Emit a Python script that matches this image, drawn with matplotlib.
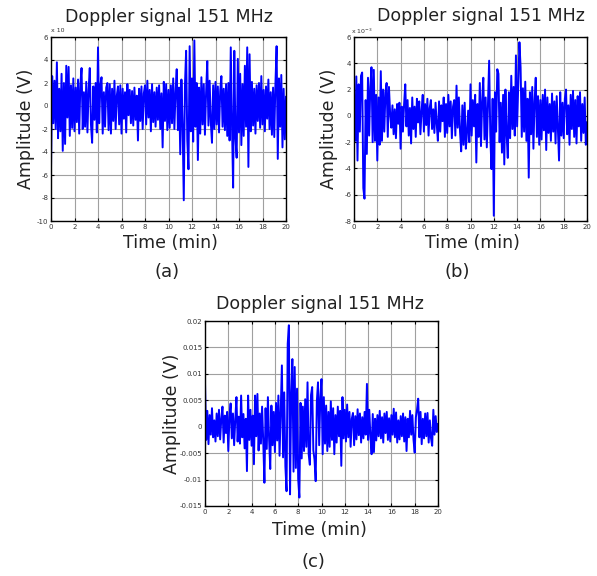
import matplotlib
matplotlib.use('Agg')
import matplotlib.pyplot as plt
import numpy as np

plt.rcParams['font.family'] = ['DejaVu Sans']

# time axis (min), one sample every 0.1 min
t = np.arange(0, 20.05, 0.1)

# signal (a), units x 10^-3 V
sig_a = [-5.5, 2.6, -1.5, 2.2, -2.0, 3.8, -2.8, 1.5, -2.2, 2.8,
         -3.9, 2.0, -3.3, 3.5, -1.0, 3.4, -2.6, 1.8, -1.9, 2.4,
         -2.2, 1.6, -1.4, 2.3, -2.4, 1.9, 3.3, -2.0, 1.2, -1.8,
         2.1, -2.3, 1.4, 3.3, -1.6, -3.2, 1.7, -1.2, 2.0, -2.3,
         5.1, -1.5, 1.8, 2.5, -2.4, 1.2, -1.8, 1.6, 2.0, -2.1,
         1.9, -2.4, 1.5, -1.3, 2.2, -2.0, 0.9, 1.7, -1.6, 1.8,
         -2.4, 1.5, -1.1, 1.2, -2.3, 1.9, -0.8, 1.4, -1.5, 1.3,
         -1.7, 1.6, -1.2, 0.9, -3.0, 1.5, -1.3, 1.7, -2.0, 1.1,
         1.8, -1.6, 2.2, -1.0, 1.4, -2.2, 1.9, -1.4, 1.2, -1.8,
         1.6, -1.2, 1.8, -2.0, 1.1, -3.6, 2.1, -1.3, 1.9, -2.1,
         1.4, -1.9, 1.8, -1.5, 2.4, -2.0, 1.2, 3.2, -2.1, 1.6,
         -4.2, 2.3, -1.6, -8.2, 1.8, 4.8, -3.0, -5.5, 5.2, -2.2,
         2.4, -3.1, 5.7, -1.8, 2.0, -4.7, 1.6, -2.4, 2.5, -1.6,
         1.9, -2.5, 1.2, 3.9, -1.7, 2.2, -1.4, -3.2, 1.8, -2.0,
         2.1, -1.6, 1.7, -2.3, 1.3, 2.6, -1.8, 1.5, -2.1, 1.9,
         -2.6, 2.0, -3.0, 5.1, -1.5, -7.1, 4.8, -2.8, -4.5, 4.1,
         -2.3, 2.8, -3.4, 1.9, -2.6, 3.5, -1.8, 5.1, -5.3, 4.5,
         -2.2, 2.1, -1.7, 1.5, -2.4, 1.8, -1.3, 2.0, -1.9, 2.6,
         -1.6, 1.4, -2.2, 1.7, -1.1, 2.3, -2.0, 1.2, -2.5, 1.6,
         -2.7, 1.9, 5.2, -4.6, 2.4, -1.8, 2.7, -3.6, 1.5, -2.9,
         0.8]

# signal (b), units x 10^-3 V
sig_b = [1.0, -1.9, 3.0, -3.4, 2.4, -1.2, 3.05, 3.3, -5.5, -6.3,
         1.2, -2.9, 2.9, -1.5, 2.2, 3.7, -2.0, 3.5, -1.9, 1.6,
         -3.4, 1.4, -2.2, 3.4, -1.9, 2.0, -1.2, 1.8, 2.5, -1.6,
         2.2, 0.2, -0.9, 0.8, -1.4, 0.5, -1.7, 0.9, -0.6, 1.0,
         -2.5, 0.7, -1.2, 0.9, 2.4, -0.8, 1.2, -1.5, 0.6, -2.1,
         1.4, -1.0, 0.7, -1.6, 1.3, -0.5, 1.1, -1.4, 0.4, 1.6,
         -1.2, 0.9, -0.7, 1.3, -1.5, 0.6, 1.2, -1.0, 0.5, -1.3,
         1.0, -0.6, -1.9, 1.1, -1.2, 0.8, -0.4, 1.4, -1.6, 0.9,
         -1.3, 1.6, -0.8, 1.1, -1.7, 0.7, 1.2, -1.5, 2.3, -0.9,
         1.4, -1.2, -2.7, 0.8, -2.2, 1.0, -2.5, -1.3, 0.4, -2.0,
         2.4, -1.5, 1.2, -0.8, 1.6, -3.55, 0.9, -1.6, 2.5, -2.3,
         1.1, 2.9, -1.8, 1.4, -2.4, 0.8, 4.2, -1.5, -4.05, 1.3,
         -7.6, 1.8, -1.2, 3.55, 3.2, -2.0, 1.0, -2.8, 1.6, -3.7,
         2.0, -1.4, -3.2, 1.8, -1.7, 3.05, -1.0, 2.2, -1.5, 4.6,
         -0.8, 2.4, 5.6, 3.7, -1.6, 2.1, -1.2, 2.6, -1.9, 1.3,
         -4.7, 1.8, -1.4, 2.2, -2.5, 1.1, 2.9, -1.6, 1.5, -2.2,
         1.2, -1.8, 1.6, -1.1, 2.0, -2.6, 1.4, -1.3, 0.9, -1.9,
         1.7, -1.2, 1.1, -2.1, 1.5, -0.9, -3.4, 1.8, -1.5, 1.0,
         -1.7, 1.3, 2.0, -1.4, 0.8, -2.2, 1.6, -1.0, 1.9, -1.6,
         1.2, -2.1, 1.5, -0.8, 1.8, -1.9, 0.9, -1.3, 1.4, -2.2,
         -0.5]

# signal (c), V
sig_c = [0.0084, -0.0025, 0.003, -0.0033, 0.0022, -0.0015, 0.0035, -0.002, 0.0012, -0.0028,
         0.0025, -0.0018, 0.0032, -0.0024, 0.0015, 0.0038, -0.003, 0.0021, -0.0012, 0.0028,
         -0.0046, 0.0018, 0.0044, -0.0022, 0.0025, -0.0035, 0.0014, 0.0056, -0.0028, 0.0019,
         -0.0032, 0.0059, -0.002, 0.0024, -0.0041, 0.0015, -0.0084, 0.0059, -0.0025, 0.0032,
         -0.0036, 0.0021, -0.0071, 0.0059, -0.0018, 0.0062, -0.0045, 0.0025, -0.0032, 0.0038,
         -0.0028, -0.0106, 0.0035, -0.0042, 0.0056, -0.0022, -0.008, 0.004, -0.0035, 0.0028,
         -0.0048, 0.0045, -0.0026, 0.0059, -0.0055, 0.0032, 0.0116, -0.0058, 0.0065, -0.0075,
         -0.0122, 0.0157, 0.0192, -0.0128, 0.006, 0.0128, -0.0085, 0.0113, -0.0078, 0.0072,
         -0.0099, -0.0134, 0.0045, -0.006, 0.0038, -0.0046, 0.0052, -0.0038, 0.0084, -0.0052,
         -0.0072, 0.006, 0.0075, -0.0045, -0.0062, -0.0103, 0.0048, 0.0084, -0.0035, 0.0055,
         0.009, -0.0052, 0.0056, -0.0032, 0.004, -0.0046, 0.0028, -0.0038, 0.0048, -0.0025,
         0.0035, -0.0052, 0.0022, -0.003, 0.0038, -0.0018, 0.003, -0.0074, 0.0056, -0.0022,
         0.0032, -0.0028, 0.0042, -0.002, 0.0028, -0.0038, 0.0015, 0.0026, -0.0035, 0.002,
         -0.0024, 0.0033, -0.0016, 0.0025, -0.003, 0.0018, -0.0022, 0.0028, -0.0015, 0.0081,
         -0.0025, 0.0032, -0.0018, -0.0052, 0.0024, -0.0048, 0.0015, -0.0026, 0.0022, -0.0018,
         0.003, -0.0022, 0.0018, -0.003, 0.0025, -0.0012, 0.0028, -0.0025, 0.0016, -0.0028,
         0.0022, -0.0015, 0.0034, -0.002, 0.0027, -0.003, 0.0012, -0.0024, 0.002, -0.0018,
         0.0025, -0.0028, 0.0018, -0.0046, 0.0015, -0.002, 0.003, -0.0015, 0.0022, -0.0025,
         -0.0049, 0.0018, 0.0032, 0.0053, -0.002, 0.0028, -0.0033, 0.0015, -0.0022, 0.0025,
         -0.0018, 0.0026, -0.003, 0.0012, -0.0022, -0.0036, 0.0032, -0.0015, 0.002, -0.001,
         0.0005]

xticks = np.arange(0, 21, 2)
yticks_a = np.arange(-10, 7, 2)
yticks_b = np.arange(-8, 7, 2)
yticks_c = [-0.015, -0.01, -0.005, 0, 0.005, 0.01, 0.015, 0.02]

title = 'Doppler signal 151 MHz'
W, H = 597, 576


def box(l, r, top, bot):
    # pixel box -> figure fraction rect
    return [l / W, 1 - bot / H, (r - l) / W, (bot - top) / H]


def ftext(x, y, s, **kw):
    fig.text(x / W, 1 - y / H, s, ha='center', va='center', **kw)


fig = plt.figure(figsize=(5.97, 5.76), dpi=100)

panels = [
    (box(51, 286, 37, 221), sig_a, yticks_a, (-10, 6)),
    (box(354, 587, 37, 221), sig_b, yticks_b, (-8, 6)),
    (box(205, 438, 321, 506), sig_c, yticks_c, (-0.015, 0.02)),
]

axs = []
for rect, sig, yt, yl in panels:
    ax = fig.add_axes(rect)
    ax.plot(t, sig, color='#0000ff', lw=1.4)
    ax.set_xlim(0, 20)
    ax.set_ylim(*yl)
    ax.set_xticks(xticks)
    ax.set_yticks(yt)
    ax.set_yticklabels(['%g' % v for v in yt])
    ax.grid(True, color='#a0a0a0', lw=0.8)
    ax.tick_params(direction='in', length=2, labelsize=5, pad=2,
                   labelcolor='#333333', top=True, right=True)
    for sp in ax.spines.values():
        sp.set_linewidth(1.0)
    axs.append(ax)

# exponent labels at the top left
ftext(58, 31, 'x 10', fontsize=4.5, color='#333333')
ftext(362, 31, r'x 10$^{-3}$', fontsize=4.5, color='#333333')

# titles
ftext(169, 17, title, fontsize=12.5, color='#222222')
ftext(481, 16, title, fontsize=12.5, color='#222222')
ftext(320, 304, title, fontsize=12.5, color='#222222')

# y labels
ftext(26, 129, 'Amplitude (V)', fontsize=12.5, rotation=90, color='#222222')
ftext(329, 129, 'Amplitude (V)', fontsize=12.5, rotation=90, color='#222222')
ftext(172, 414, 'Amplitude (V)', fontsize=12.5, rotation=90, color='#222222')

# x labels
ftext(170, 243, 'Time (min)', fontsize=12.5, color='#222222')
ftext(472, 243, 'Time (min)', fontsize=12.5, color='#222222')
ftext(319, 530, 'Time (min)', fontsize=12.5, color='#222222')

# panel captions
ftext(167, 272, '(a)', fontsize=13, color='#222222')
ftext(457, 272, '(b)', fontsize=13, color='#222222')
ftext(313, 562, '(c)', fontsize=13, color='#222222')

fig.savefig('out.png', dpi=100)
